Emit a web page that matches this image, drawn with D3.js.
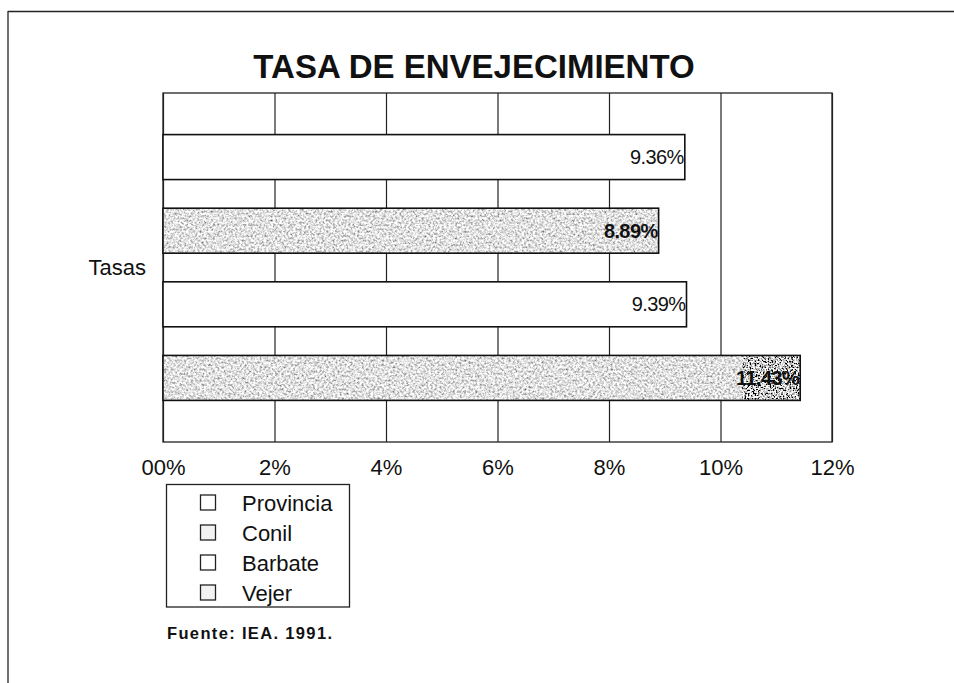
<!DOCTYPE html>
<html>
<head>
<meta charset="utf-8">
<script src="https://cdn.jsdelivr.net/npm/d3@7"></script>
<style>
  html, body { margin: 0; padding: 0; background: #fff; }
  svg { display: block; font-family: "Liberation Sans", Arial, Helvetica, sans-serif; }
</style>
</head>
<body>
<svg id="chart" width="954" height="683"></svg>
<script>
// ---- data ----
const title = "TASA DE ENVEJECIMIENTO";
const category = "Tasas";
const series = ["Provincia", "Conil", "Barbate", "Vejer"];
const values = [9.36, 8.89, 9.39, 11.43];
const valueLabels = ["9.36%", "8.89%", "9.39%", "11.43%"];
const textured = [false, true, false, true];
const tickValues = [0, 2, 4, 6, 8, 10, 12];
const tickLabels = ["00%", "2%", "4%", "6%", "8%", "10%", "12%"];
const source = "Fuente: IEA. 1991.";

// ---- layout ----
const W = 954, H = 683;
const plot = { left: 163, right: 832, top: 93, bottom: 442 };

const svg = d3.select("#chart");

// noise texture for grey bars
const defs = svg.append("defs");
const f = defs.append("filter").attr("id", "noise")
  .attr("x", 0).attr("y", 0).attr("width", "100%").attr("height", "100%");
f.append("feTurbulence").attr("type", "fractalNoise").attr("baseFrequency", 0.45)
  .attr("numOctaves", 3).attr("seed", 7).attr("result", "t");
f.append("feColorMatrix").attr("in", "t").attr("type", "matrix")
  .attr("values", "1.6 0 0 0 -0.05  1.6 0 0 0 -0.05  1.6 0 0 0 -0.05  0 0 0 0 1").attr("result", "g");
f.append("feComposite").attr("in", "g").attr("in2", "SourceGraphic").attr("operator", "in");

const fd = defs.append("filter").attr("id", "noiseDark")
  .attr("x", 0).attr("y", 0).attr("width", "100%").attr("height", "100%");
fd.append("feTurbulence").attr("type", "fractalNoise").attr("baseFrequency", 0.6)
  .attr("numOctaves", 2).attr("seed", 3).attr("result", "t");
fd.append("feColorMatrix").attr("in", "t").attr("type", "matrix")
  .attr("values", "4 0 0 0 -1.4  4 0 0 0 -1.4  4 0 0 0 -1.4  0 0 0 0 1").attr("result", "g");
fd.append("feComposite").attr("in", "g").attr("in2", "SourceGraphic").attr("operator", "in");

// outer frame
svg.append("line").attr("x1", 8).attr("x2", W).attr("y1", 11.5).attr("y2", 11.5)
  .attr("stroke", "#222").attr("stroke-width", 1.6);
svg.append("line").attr("x1", 8).attr("x2", 8).attr("y1", 11).attr("y2", H)
  .attr("stroke", "#333").attr("stroke-width", 1.4);

// title
svg.append("text").attr("x", 474).attr("y", 78).attr("text-anchor", "middle")
  .attr("font-size", 33).attr("font-weight", "bold").attr("fill", "#111")
  .text(title);

// scales
const x = d3.scaleLinear().domain([0, 12]).range([plot.left, plot.right]);
const y = d3.scaleBand().domain(series).range([plot.top, plot.bottom])
  .paddingInner(0.389).paddingOuter(0.565);

// gridlines
const grid = svg.append("g").attr("transform", `translate(0,${plot.bottom})`)
  .call(d3.axisBottom(x).tickValues(tickValues).tickSize(-(plot.bottom - plot.top)).tickFormat(""));
grid.select(".domain").remove();
grid.selectAll("line").attr("stroke", "#222").attr("stroke-width", 1.2);

// plot border
svg.append("rect").attr("x", plot.left).attr("y", plot.top)
  .attr("width", plot.right - plot.left).attr("height", plot.bottom - plot.top)
  .attr("fill", "none").attr("stroke", "#222").attr("stroke-width", 1.3);

// bars
const bars = svg.append("g");
series.forEach((s, i) => {
  const bx = x(0), by = y(s), bw = x(values[i]) - x(0), bh = y.bandwidth();
  bars.append("rect").attr("x", bx).attr("y", by).attr("width", bw).attr("height", bh)
    .attr("fill", "#fff");
  if (textured[i]) {
    bars.append("rect").attr("x", bx).attr("y", by).attr("width", bw).attr("height", bh)
      .attr("fill", "#000").attr("filter", "url(#noise)");
  }
  if (i === 3) {
    bars.append("rect").attr("x", x(values[i]) - 58).attr("y", by).attr("width", 58).attr("height", bh)
      .attr("fill", "#000").attr("filter", "url(#noiseDark)");
  }
  bars.append("rect").attr("x", bx).attr("y", by).attr("width", bw).attr("height", bh)
    .attr("fill", "none").attr("stroke", "#111").attr("stroke-width", 1.6);
  bars.append("text").attr("x", x(values[i]) - 1).attr("y", by + bh / 2 + 7)
    .attr("text-anchor", "end").attr("font-size", 20).attr("letter-spacing", -0.6)
    .attr("fill", "#111").attr("font-weight", textured[i] ? "bold" : "normal")
    .text(valueLabels[i]);
});

// x axis labels
const ax = svg.append("g").attr("transform", `translate(0,${plot.bottom})`)
  .call(d3.axisBottom(x).tickValues(tickValues).tickSize(0).tickPadding(0)
    .tickFormat((d, i) => tickLabels[i]));
ax.select(".domain").remove();
ax.selectAll("text").attr("font-size", 22).attr("fill", "#111")
  .attr("dy", 0).attr("y", 33)
  .style("font-family", '"Liberation Sans", Arial, sans-serif');

// category label
svg.append("text").attr("x", 146).attr("y", 275).attr("text-anchor", "end")
  .attr("font-size", 22).attr("fill", "#111").text(category);

// legend
const lg = svg.append("g");
lg.append("rect").attr("x", 166.5).attr("y", 484.5).attr("width", 183).attr("height", 122.5)
  .attr("fill", "#fff").attr("stroke", "#222").attr("stroke-width", 1.3);
const ly = d3.scalePoint().domain(series).range([502.5, 592.5]);
series.forEach((s, i) => {
  lg.append("rect").attr("x", 200.5).attr("y", ly(s) - 7.5).attr("width", 15).attr("height", 15)
    .attr("fill", textured[i] ? "#f2f2f2" : "#fff").attr("stroke", "#222").attr("stroke-width", 1.3);
  lg.append("text").attr("x", 242).attr("y", ly(s) + 8).attr("font-size", 22)
    .attr("fill", "#111").text(s);
});

// source
svg.append("text").attr("x", 167).attr("y", 639).attr("font-size", 16.5)
  .attr("font-weight", "bold").attr("fill", "#111")
  .attr("textLength", 165).attr("lengthAdjust", "spacing").text(source);
</script>
</body>
</html>
